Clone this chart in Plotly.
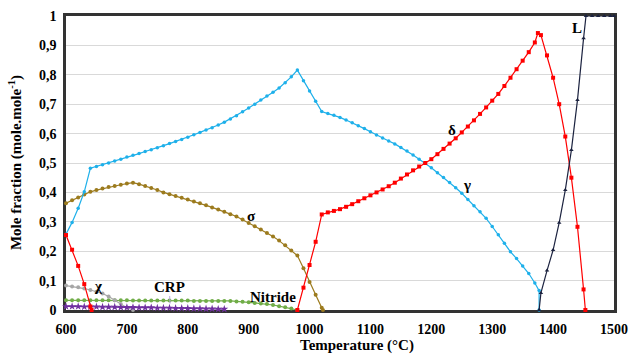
import plotly.graph_objects as go

# ---------------- data ----------------
gamma_T = list(range(600, 990, 10)) + [990, 1000, 1010, 1020] + list(range(1030, 1380, 10)) + [1377, 1377]
gamma_y = [0.258, 0.298, 0.346, 0.402, 0.482, 0.488, 0.494, 0.500, 0.507, 0.513,
           0.520, 0.526, 0.532, 0.539, 0.545, 0.552, 0.559, 0.566, 0.573, 0.580,
           0.588, 0.596, 0.604, 0.612, 0.620, 0.629, 0.639, 0.650, 0.661, 0.674,
           0.687, 0.700, 0.714, 0.728, 0.741, 0.755, 0.773, 0.793, 0.816,
           0.780, 0.745, 0.710, 0.675,
           0.668, 0.662, 0.655, 0.646, 0.637, 0.627, 0.617, 0.606, 0.595, 0.585,
           0.575, 0.565, 0.553, 0.541, 0.527, 0.513, 0.499, 0.484, 0.467, 0.451,
           0.434, 0.416, 0.397, 0.376, 0.355, 0.334, 0.312, 0.284, 0.256, 0.227,
           0.198, 0.175, 0.150, 0.124, 0.092,
           0.066, 0.0]

delta_T = [600, 610, 620, 630, 640, 642, None] + list(range(980, 1380, 10)) + [1375, 1380] + list(range(1390, 1460, 10)) + [1453]
delta_y = [0.255, 0.205, 0.150, 0.088, 0.012, 0.0, None,
           0.0, 0.076, 0.153, 0.232, 0.325, 0.332, 0.337, 0.343, 0.351, 0.360,
           0.370, 0.380, 0.390, 0.400, 0.410, 0.421, 0.433, 0.447, 0.461, 0.475,
           0.488, 0.500, 0.513, 0.530, 0.548, 0.566, 0.584, 0.604, 0.624, 0.645,
           0.667, 0.689, 0.712, 0.735, 0.762, 0.790, 0.819, 0.848, 0.877, 0.910,
           0.942, 0.935,
           0.866, 0.790, 0.700, 0.590, 0.450, 0.283, 0.070,
           0.0]

sigma_T = list(range(600, 1030, 10)) + [1022]
sigma_y = [0.363, 0.373, 0.383, 0.393, 0.402, 0.408, 0.413, 0.418, 0.422, 0.426,
           0.430, 0.433, 0.428, 0.422, 0.415, 0.408, 0.400, 0.394, 0.388, 0.382,
           0.376, 0.369, 0.363, 0.356, 0.349, 0.342, 0.334, 0.326, 0.318, 0.308,
           0.296, 0.285, 0.274, 0.262, 0.250, 0.236, 0.220, 0.202, 0.185, 0.142,
           0.095, 0.052, 0.008, 0.0]

chi_T = list(range(600, 720, 10))
chi_y = [0.083, 0.080, 0.077, 0.073, 0.068, 0.062, 0.056, 0.046, 0.033, 0.020, 0.008, 0.0]

nitride_T = list(range(600, 990, 10))
nitride_y = [0.033] * 11 + [0.032] * 10 + [0.031] * 7 + \
            [0.029, 0.028, 0.026, 0.024, 0.022, 0.020, 0.017, 0.013, 0.009, 0.005, 0.0]

s_T = list(range(600, 870, 10))
s_y = [0.012, 0.012, 0.012, 0.011, 0.011, 0.011, 0.010, 0.010, 0.010, 0.009,
       0.009, 0.009, 0.008, 0.008, 0.008, 0.007, 0.007, 0.007, 0.006, 0.006,
       0.006, 0.005, 0.005, 0.004, 0.004, 0.003, 0.003]

L_T = [1377, 1380, 1390, 1400, 1410, 1420, 1430, 1440, 1450, 1454, 1464, 1474, 1484, 1494, 1500]
L_y = [0.0, 0.058, 0.134, 0.204, 0.297, 0.408, 0.544, 0.714, 0.924, 1.0, 1.0, 1.0, 1.0, 1.0, 1.0]

x_ticks = [600, 700, 800, 900, 1000, 1100, 1200, 1300, 1400, 1500]
y_ticks = [0, 0.1, 0.2, 0.3, 0.4, 0.5, 0.6, 0.7, 0.8, 0.9, 1.0]
y_tick_text = ["0", "0,1", "0,2", "0,3", "0,4", "0,5", "0,6", "0,7", "0,8", "0,9", "1"]

labels = [("γ", 1258, 0.425), ("δ", 1234, 0.612), ("σ", 904, 0.32), ("χ", 654, 0.082),
          ("Nitride", 940, 0.044), ("s", 907, -0.024), ("L", 1439, 0.96)]

# ---------------- figure ----------------
FONT = "Liberation Serif"
fig = go.Figure()

def add(x, y, color, symbol, size, name):
    fig.add_trace(go.Scatter(x=x, y=y, mode="lines+markers", name=name,
                             line=dict(color=color, width=1.2),
                             marker=dict(color=color, symbol=symbol, size=size, line=dict(width=0)),
                             connectgaps=False, cliponaxis=False))

add(nitride_T, nitride_y, "#70AD47", "circle", 4, "Nitride")
add(chi_T, chi_y, "#A6A6A6", "circle", 4, "chi")
add(s_T, s_y, "#7030A0", "star", 6, "s")
add(sigma_T, sigma_y, "#9C7B1E", "circle", 4, "sigma")
add(gamma_T, gamma_y, "#1EB0EA", "circle", 3.5, "gamma")
add(delta_T, delta_y, "#FF0000", "square", 4, "delta")
add(L_T, L_y, "#1C2340", "triangle-up", 4, "L")

for txt, x, y in labels:
    fig.add_annotation(x=x, y=y, text=txt, showarrow=False,
                       font=dict(family=FONT, size=15, color="black", weight="bold"))

fig.add_annotation(x=771, y=0.022, text="CRP", showarrow=True, arrowhead=0,
                   arrowcolor="#B9A6E0", arrowwidth=1, ax=-1, ay=-17,
                   font=dict(family=FONT, size=15, color="black", weight="bold"))

title_font = dict(family=FONT, size=15, color="black", weight="bold")
fig.add_annotation(xref="paper", yref="paper", x=0.531, y=-0.122, text="Temperature (°C)",
                   showarrow=False, font=title_font, xanchor="center", yanchor="middle")
fig.add_annotation(xref="paper", yref="paper", x=-0.093, y=0.5, text="Mole fraction (mole.mole<sup>-1</sup>)",
                   showarrow=False, font=title_font, textangle=-90, xanchor="center", yanchor="middle")

tick_font = dict(family=FONT, size=14, color="black", weight="bold")
fig.update_layout(
    width=631, height=361,
    margin=dict(l=66, r=17, t=16, b=51, autoexpand=False),
    paper_bgcolor="white", plot_bgcolor="white",
    showlegend=False,
    xaxis=dict(range=[600, 1500], tickvals=x_ticks, ticktext=[str(t) for t in x_ticks],
               tickfont=tick_font, showgrid=False, zeroline=False, automargin=False,
               showline=True, linecolor="#333333", linewidth=2.5, mirror=True, ticks="outside",
               ticklen=4, tickcolor="rgba(0,0,0,0)", layer="below traces"),
    yaxis=dict(range=[0, 1], tickvals=y_ticks, ticktext=y_tick_text,
               tickfont=tick_font, showgrid=True, gridcolor="#D9D9D9", gridwidth=1,
               zeroline=False, showline=True, linecolor="#333333", linewidth=2.5, mirror=True,
               automargin=False, ticks="outside", ticklen=4, tickcolor="rgba(0,0,0,0)",
               layer="below traces"),
)

fig.write_html("out.html")
